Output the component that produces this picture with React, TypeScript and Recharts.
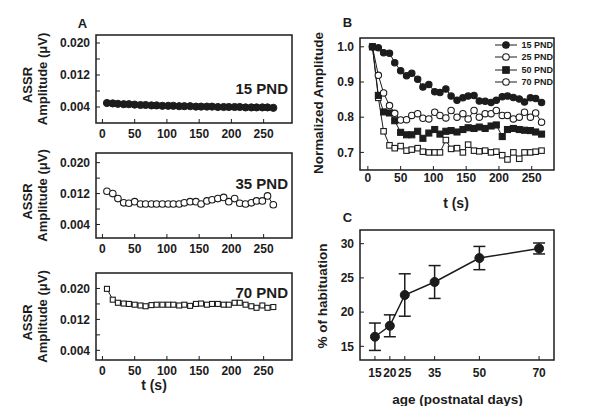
import React from "react";
import { LineChart, Line, XAxis, YAxis, ReferenceArea, ErrorBar, Legend } from "recharts";

const INK = "#1c1c1c";
const FONT = '"Liberation Sans", Arial, sans-serif';

// sweep times (s), shared by panels A and B
const times = [7, 16, 24, 33, 41, 50, 59, 67, 76, 84, 93, 102, 110, 119, 127, 136, 145, 153, 162, 170, 179, 188, 196, 205, 213, 222, 231, 239, 248, 256, 265];

// panel A: ASSR amplitude (µV)
const amp15 = [0.005, 0.0049, 0.0048, 0.0047, 0.0047, 0.0046, 0.0045, 0.0045, 0.0044, 0.0044, 0.0043, 0.0043, 0.0043, 0.0042, 0.0042, 0.0042, 0.0041, 0.0041, 0.0041, 0.0041, 0.004, 0.004, 0.004, 0.004, 0.004, 0.0039, 0.0039, 0.0039, 0.0039, 0.0039, 0.0038];
const amp35 = [0.0126, 0.012, 0.0107, 0.0096, 0.0095, 0.0099, 0.0093, 0.0093, 0.0093, 0.0093, 0.0093, 0.0093, 0.0093, 0.0093, 0.0096, 0.0099, 0.0099, 0.0093, 0.0101, 0.0104, 0.0107, 0.011, 0.0099, 0.0107, 0.0095, 0.0093, 0.0096, 0.0101, 0.0101, 0.0114, 0.0091];
const amp70 = [0.0199, 0.0171, 0.0163, 0.0161, 0.016, 0.0158, 0.0156, 0.0154, 0.0157, 0.0158, 0.0158, 0.0158, 0.0158, 0.0156, 0.0158, 0.0155, 0.016, 0.0161, 0.0158, 0.016, 0.016, 0.0158, 0.0158, 0.0163, 0.0163, 0.0158, 0.0154, 0.015, 0.0156, 0.015, 0.0152];

// panel B: normalized amplitude
const norm15 = [1.0, 0.997, 0.983, 0.982, 0.955, 0.932, 0.918, 0.925, 0.908, 0.886, 0.893, 0.872, 0.87, 0.88, 0.86, 0.848, 0.855, 0.86, 0.862, 0.846, 0.845, 0.842, 0.848, 0.858, 0.86, 0.856, 0.852, 0.843, 0.855, 0.853, 0.842];
const norm25 = [1.0, 0.919, 0.869, 0.833, 0.811, 0.792, 0.793, 0.805, 0.81, 0.797, 0.795, 0.814, 0.805, 0.798, 0.819, 0.8, 0.81, 0.795, 0.819, 0.8, 0.81, 0.81, 0.819, 0.805, 0.805, 0.795, 0.8, 0.814, 0.8, 0.812, 0.786];
const norm50 = [1.0, 0.862, 0.815, 0.812, 0.79, 0.757, 0.75, 0.75, 0.76, 0.74, 0.755, 0.765, 0.752, 0.76, 0.762, 0.758, 0.765, 0.77, 0.768, 0.772, 0.768, 0.775, 0.778, 0.745, 0.765, 0.768, 0.765, 0.763, 0.762, 0.758, 0.752];
const norm70 = [1.0, 0.855, 0.76, 0.72, 0.712, 0.718, 0.705, 0.708, 0.712, 0.702, 0.7, 0.7, 0.7, 0.735, 0.71, 0.712, 0.7, 0.722, 0.705, 0.703, 0.705, 0.7, 0.702, 0.692, 0.68, 0.7, 0.682, 0.7, 0.7, 0.702, 0.705];

// panel C: % of habituation by age
const ages = [15, 20, 25, 35, 50, 70];
const habMean = [16.4, 18.0, 22.5, 24.4, 27.9, 29.3];
const habErr = [2.0, 1.6, 3.1, 2.4, 1.7, 0.8];

const timeTicks = [0, 50, 100, 150, 200, 250];
const ampTicks = [0.004, 0.008, 0.012, 0.016, 0.02];
const ampLabeled = [0.004, 0.012, 0.02];
const normTicks = [0.7, 0.8, 0.9, 1.0];
const habTicks = [15, 20, 25, 30];

const tickStyle = { fill: INK, fontSize: 12, fontWeight: 700, fontFamily: FONT };

const squareDot = (fill: string, s: number) => (p: any) => {
  if (p.cx == null || p.cy == null) return <g key={p.index} />;
  return (
    <rect key={p.index} x={p.cx - s / 2} y={p.cy - s / 2} width={s} height={s}
      fill={fill} stroke={INK} strokeWidth={1.1} />
  );
};

function AmpPanel({ top, height, domain, values, dot }: any) {
  const data = times.map((t, i) => ({ t, v: values[i] }));
  const h = height + 35;
  return (
    <div style={{ position: "absolute", left: 0, top: top - 10, width: 300, height: h }}>
      <LineChart width={300} height={h} data={data} margin={{ top: 10, right: 8, left: 46, bottom: 5 }}>
        <XAxis type="number" dataKey="t" domain={[-10, 294]} ticks={timeTicks} interval={0}
          axisLine={false} stroke={INK} tickSize={-4} tickMargin={10} tick={tickStyle} height={20} />
        <YAxis type="number" domain={domain} ticks={ampTicks} interval={0} axisLine={false}
          stroke={INK} tickSize={-4} tickMargin={10} tick={tickStyle} width={50}
          tickFormatter={(v: number) => (ampLabeled.some((l) => Math.abs(l - v) < 1e-9) ? v.toFixed(3) : "")} />
        <ReferenceArea x1={-10} x2={294} y1={domain[0]} y2={domain[1]} fill="none"
          stroke={INK} strokeWidth={1.5} />
        <Line dataKey="v" stroke={INK} strokeWidth={1} dot={dot} isAnimationActive={false} />
      </LineChart>
    </div>
  );
}

const legendItems = [
  { name: "15 PND", shape: "circle", fill: INK },
  { name: "25 PND", shape: "circle", fill: "#fff" },
  { name: "50 PND", shape: "square", fill: INK },
  { name: "70 PND", shape: "circle", fill: "#fff" },
];

const NormLegend = () => (
  <div style={{ fontFamily: FONT, fontSize: 9, fontWeight: 700, color: INK }}>
    {legendItems.map((it) => (
      <div key={it.name} style={{ display: "flex", alignItems: "center", height: 12.3 }}>
        <svg width={24} height={10}>
          <line x1={1} x2={23} y1={5} y2={5} stroke={INK} strokeWidth={1} />
          {it.shape === "circle" ? (
            <circle cx={12} cy={5} r={3.3} fill={it.fill} stroke={INK} strokeWidth={1.1} />
          ) : (
            <rect x={8.7} y={1.7} width={6.6} height={6.6} fill={it.fill} stroke={INK} />
          )}
        </svg>
        <span style={{ marginLeft: 3 }}>{it.name}</span>
      </div>
    ))}
  </div>
);

function NormPanel() {
  const data = times.map((t, i) => ({ t, a: norm15[i], b: norm25[i], c: norm50[i], d: norm70[i] }));
  const circ = (fill: string) => ({ r: 3.2, fill, stroke: INK, strokeWidth: 1.1 });
  return (
    <div style={{ position: "absolute", left: 300, top: 28, width: 300, height: 167 }}>
      <LineChart width={300} height={167} data={data} margin={{ top: 10, right: 46, left: 15, bottom: 5 }}>
        <XAxis type="number" dataKey="t" domain={[-12, 284]} ticks={timeTicks} interval={0}
          axisLine={false} stroke={INK} tickSize={-4} tickMargin={7} tick={tickStyle} height={20} />
        <YAxis type="number" domain={[0.65, 1.025]} ticks={normTicks} interval={0} axisLine={false}
          stroke={INK} tickSize={-4} tickMargin={10} tick={tickStyle} width={45}
          tickFormatter={(v: number) => v.toFixed(1)} />
        <ReferenceArea x1={-12} x2={284} y1={0.65} y2={1.025} fill="none" stroke={INK} strokeWidth={1.5} />
        <Legend layout="vertical" align="center" verticalAlign="middle" content={<NormLegend />}
          wrapperStyle={{ top: 11, right: 47, left: "auto", width: "auto" }} />
        <Line dataKey="d" stroke={INK} strokeWidth={1} dot={squareDot("#fff", 5.5)} isAnimationActive={false} />
        <Line dataKey="c" stroke={INK} strokeWidth={1} dot={squareDot(INK, 6)} isAnimationActive={false} />
        <Line dataKey="b" stroke={INK} strokeWidth={1} dot={circ("#fff")} isAnimationActive={false} />
        <Line dataKey="a" stroke={INK} strokeWidth={1} dot={circ(INK)} isAnimationActive={false} />
      </LineChart>
    </div>
  );
}

function HabPanel() {
  const data = ages.map((age, i) => ({ age, m: habMean[i], e: habErr[i] }));
  return (
    <div style={{ position: "absolute", left: 300, top: 210, width: 300, height: 175 }}>
      <LineChart width={300} height={175} data={data} margin={{ top: 20, right: 46, left: 15, bottom: 5 }}>
        <XAxis type="number" dataKey="age" domain={[10, 75]} ticks={ages} interval={0}
          axisLine={false} stroke={INK} tickSize={-4} tickMargin={12} tick={tickStyle} height={20} />
        <YAxis type="number" domain={[13, 32]} ticks={habTicks} interval={0} axisLine={false}
          stroke={INK} tickSize={-4} tickMargin={10} tick={tickStyle} width={45} />
        <ReferenceArea x1={10} x2={75} y1={13} y2={32} fill="none" stroke={INK} strokeWidth={1.5} />
        <Line dataKey="m" stroke={INK} strokeWidth={1.5} isAnimationActive={false}
          dot={{ r: 4.5, fill: INK, stroke: INK, strokeWidth: 1 }}>
          <ErrorBar dataKey="e" direction="y" width={6} stroke={INK} strokeWidth={1.5} />
        </Line>
      </LineChart>
    </div>
  );
}

const ampPanels = [
  { top: 35, height: 88, domain: [0, 0.022], values: amp15, label: "15 PND", dot: { r: 3.6, fill: INK, stroke: INK, strokeWidth: 1 } },
  { top: 153, height: 85, domain: [0.0005, 0.0225], values: amp35, label: "35 PND", dot: { r: 3.3, fill: "#fff", stroke: INK, strokeWidth: 1.1 } },
  { top: 273, height: 87, domain: [0.0015, 0.024], values: amp70, label: "70 PND", dot: squareDot("#fff", 5) },
];

const labelY = [88, 183, 292];

export default function App() {
  const txt = { fontFamily: FONT, fontWeight: 700, fill: INK } as const;
  return (
    <div style={{ position: "absolute", left: 0, top: 0, width: 600, height: 406, background: "#fff", overflow: "hidden" }}>
      {ampPanels.map((p) => (
        <AmpPanel key={p.label} {...p} />
      ))}
      <NormPanel />
      <HabPanel />
      <svg width={600} height={406} style={{ position: "absolute", left: 0, top: 0, pointerEvents: "none" }}>
        <text x={82.5} y={23} {...txt} fontSize={13} textAnchor="middle" dominantBaseline="central">A</text>
        <text x={347.5} y={22.5} {...txt} fontSize={13} textAnchor="middle" dominantBaseline="central">B</text>
        <text x={347.5} y={217.5} {...txt} fontSize={13} textAnchor="middle" dominantBaseline="central">C</text>
        {ampPanels.map((p, i) => {
          const cy = p.top + p.height / 2;
          return (
            <g key={p.label}>
              <text {...txt} fontSize={13} textAnchor="middle" dominantBaseline="central"
                transform={`translate(27.5 ${cy + 6}) rotate(-90)`}>ASSR</text>
              <text {...txt} fontSize={13} textAnchor="middle" dominantBaseline="central"
                transform={`translate(42 ${cy}) rotate(-90)`}>Amplitude (μV)</text>
              <text x={288} y={labelY[i]} {...txt} fontSize={15} textAnchor="end" dominantBaseline="central">{p.label}</text>
            </g>
          );
        })}
        <text x={154} y={385} {...txt} fontSize={14} textAnchor="middle" dominantBaseline="central">t (s)</text>
        <text x={456} y={203} {...txt} fontSize={14} textAnchor="middle" dominantBaseline="central">t (s)</text>
        <text {...txt} fontSize={13.5} textAnchor="middle" dominantBaseline="central"
          transform="translate(318 103) rotate(-90)">Normalized Amplitude</text>
        <text {...txt} fontSize={13.5} textAnchor="middle" dominantBaseline="central"
          transform="translate(322 296) rotate(-90)">% of habituation</text>
        <text x={457.5} y={399} {...txt} fontSize={13.5} textAnchor="middle" dominantBaseline="central">age (postnatal days)</text>
      </svg>
    </div>
  );
}
